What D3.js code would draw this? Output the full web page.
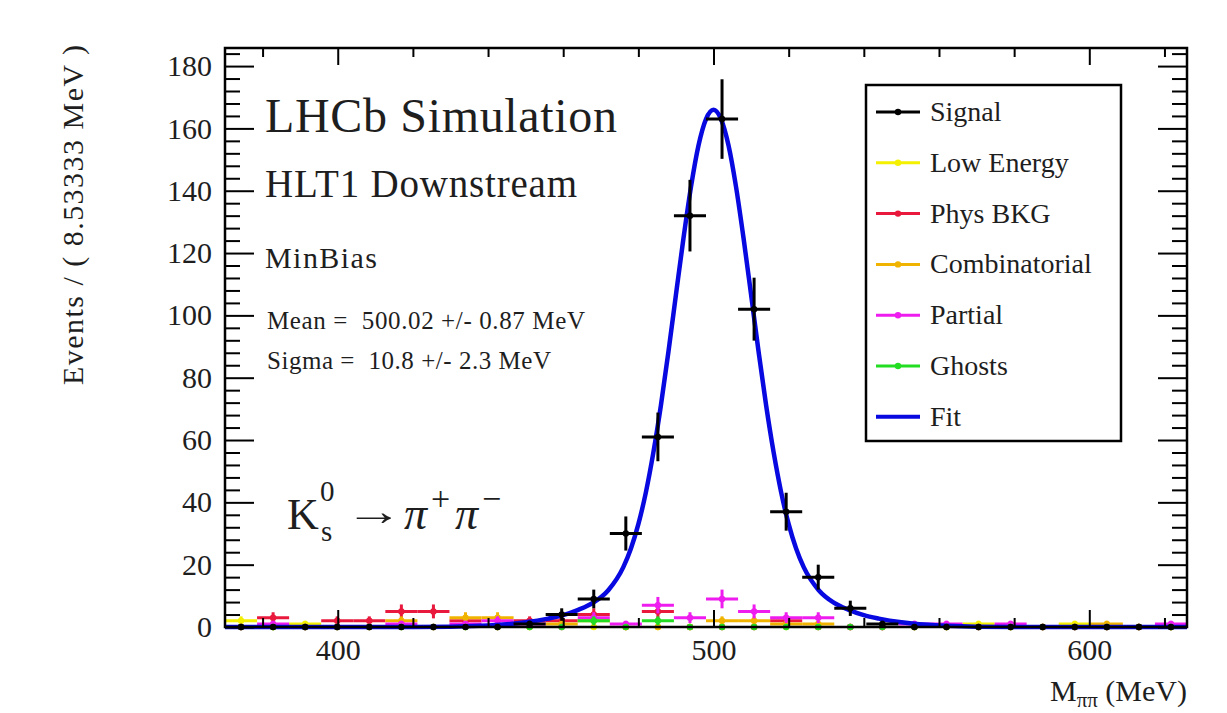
<!DOCTYPE html>
<html>
<head>
<meta charset="utf-8">
<script src="https://cdn.jsdelivr.net/npm/d3@7"></script>
<style>
  body { margin: 0; background: #fff; }
  text { font-family: "Liberation Serif", "Times New Roman", serif; fill: #1e1e1e; white-space: pre; }
</style>
</head>
<body>
<div id="chart"></div>
<script>
// K0s -> pi+ pi- mass plot, 30 bins of 8.53333 MeV from 370 to 626 MeV

// ---------------- DATA ----------------
const massMin = 370, massMax = 626, nBins = 30;

const signal        = [0,0,0,0,0,0,0,0,0,1,4,9,30,61,132,163,102,37,16,6,1,0,0,0,0,0,0,0,0,0];
const lowEnergy     = [2,0,1,0,0,0,0,0,0,0,0,0,0,0,0,0,0,0,0,0,0,0,0,1,0,0,1,0,0,0];
const physBkg       = [0,3,0,2,2,5,5,2,0,2,2,4,0,5,0,0,0,2,0,0,0,0,0,0,0,0,0,0,0,0];
const combinatorial = [0,0,0,0,0,2,0,3,3,0,1,2,0,0,0,2,2,1,1,0,0,0,0,0,0,0,0,1,0,0];
const partial       = [0,1,0,0,0,1,0,1,2,1,0,3,1,7,3,9,5,3,3,0,0,1,1,0,1,0,0,0,0,1];
const ghosts        = [0,0,0,0,0,0,0,0,0,0,0,2,0,2,0,0,0,0,0,0,0,0,0,0,0,0,0,0,0,0];

// fit curve (mass in MeV, events)
const fitMass  = [370,420,440,450,456,460,464,468,472,476,478,480,482,484,486,488,490,492,494,496,498,500,
                  502,504,506,508,510,512,514,516,518,520,522,524,528,532,536,540,544,550,560,580,626];
const fitValue = [0,0,0.5,1.5,2.7,3.8,5.5,7.8,11.8,19.2,25.1,33,43.2,56,71.1,88.3,106.6,124.7,141.2,154.5,163,166,
                  163,154.5,141.2,124.7,106.6,88.3,71.1,56,43.2,33,25.1,19.2,11.8,7.8,5.5,3.8,2.7,1.5,0.5,0,0];

const xTickValues = [400, 500, 600];
const yTickValues = [0, 20, 40, 60, 80, 100, 120, 140, 160, 180];

const legendNames  = ["Signal", "Low Energy", "Phys BKG", "Combinatorial", "Partial", "Ghosts", "Fit"];
const legendColors = ["#000000", "#f4f000", "#e8193c", "#f0b400", "#ee1cee", "#22dd22", "#0808e0"];

const infoLines = ["Mean =  500.02 +/- 0.87 MeV", "Sigma =  10.8 +/- 2.3 MeV"];

// ---------------- SET UP ----------------
const width = 1227, height = 713;
const frame = { left: 225, right: 1187, top: 48, bottom: 627 };

const svg = d3.select("#chart").append("svg")
    .attr("width", width)
    .attr("height", height);

const x = d3.scaleLinear().domain([massMin, massMax]).range([frame.left, frame.right]);
const y = d3.scaleLinear().domain([0, 185.8]).range([frame.bottom, frame.top]);

const binWidth = (massMax - massMin) / nBins;
const binCenter = i => massMin + binWidth * (i + 0.5);

const plot = svg.append("g");

// ------------ HISTOGRAMS ------------
function drawHist(values, color) {
    const g = plot.append("g").attr("stroke", color).attr("fill", color);
    const bins = values.map((v, i) => ({ i: i, v: v, err: Math.sqrt(v) }));
    const filled = bins.filter(d => d.v > 0);

    g.selectAll(".hbar").data(filled).enter().append("line")
        .attr("x1", d => x(binCenter(d.i) - binWidth / 2))
        .attr("x2", d => x(binCenter(d.i) + binWidth / 2))
        .attr("y1", d => y(d.v))
        .attr("y2", d => y(d.v))
        .attr("stroke-width", 3);

    g.selectAll(".vbar").data(filled).enter().append("line")
        .attr("x1", d => x(binCenter(d.i)))
        .attr("x2", d => x(binCenter(d.i)))
        .attr("y1", d => y(d.v - d.err))
        .attr("y2", d => y(d.v + d.err))
        .attr("stroke-width", 3);

    g.selectAll("circle").data(bins).enter().append("circle")
        .attr("cx", d => x(binCenter(d.i)))
        .attr("cy", d => y(d.v))
        .attr("r", 3.2)
        .attr("stroke", "none");
}

drawHist(lowEnergy, legendColors[1]);
drawHist(physBkg, legendColors[2]);
drawHist(combinatorial, legendColors[3]);
drawHist(partial, legendColors[4]);
drawHist(ghosts, legendColors[5]);

// fit line
const fitLine = d3.line()
    .x(d => x(d[0]))
    .y(d => y(d[1]))
    .curve(d3.curveMonotoneX);

plot.append("path")
    .datum(fitMass.map((m, i) => [m, fitValue[i]]))
    .attr("d", fitLine)
    .attr("fill", "none")
    .attr("stroke", legendColors[6])
    .attr("stroke-width", 4.5);

drawHist(signal, legendColors[0]);

// ------------ AXES & FRAME ------------
const minorX = d3.range(380, 621, 20).filter(v => !xTickValues.includes(v));
const minorY = d3.range(0, 185, 4).filter(v => !yTickValues.includes(v));

function styleAxis(sel) {
    sel.select(".domain").remove();
    sel.selectAll(".tick line").attr("stroke", "#000").attr("stroke-width", 2);
    sel.selectAll("text").attr("font-size", 30).attr("fill", "#1e1e1e")
        .attr("font-family", '"Liberation Serif", "Times New Roman", serif');
}

svg.append("g").attr("transform", `translate(0,${frame.bottom})`)
    .call(d3.axisBottom(x).tickValues(xTickValues).tickSize(-17).tickPadding(12).tickFormat(d3.format("d")))
    .call(styleAxis);
svg.append("g").attr("transform", `translate(0,${frame.bottom})`)
    .call(d3.axisBottom(x).tickValues(minorX).tickSize(-9).tickFormat(""))
    .call(styleAxis);
svg.append("g").attr("transform", `translate(0,${frame.top})`)
    .call(d3.axisTop(x).tickValues(xTickValues).tickSize(-17).tickFormat(""))
    .call(styleAxis);
svg.append("g").attr("transform", `translate(0,${frame.top})`)
    .call(d3.axisTop(x).tickValues(minorX).tickSize(-9).tickFormat(""))
    .call(styleAxis);

svg.append("g").attr("transform", `translate(${frame.left},0)`)
    .call(d3.axisLeft(y).tickValues(yTickValues).tickSize(-29).tickPadding(13))
    .call(styleAxis);
svg.append("g").attr("transform", `translate(${frame.left},0)`)
    .call(d3.axisLeft(y).tickValues(minorY).tickSize(-15).tickFormat(""))
    .call(styleAxis);
svg.append("g").attr("transform", `translate(${frame.right},0)`)
    .call(d3.axisRight(y).tickValues(yTickValues).tickSize(-29).tickFormat(""))
    .call(styleAxis);
svg.append("g").attr("transform", `translate(${frame.right},0)`)
    .call(d3.axisRight(y).tickValues(minorY).tickSize(-15).tickFormat(""))
    .call(styleAxis);

svg.append("rect")
    .attr("x", frame.left).attr("y", frame.top)
    .attr("width", frame.right - frame.left).attr("height", frame.bottom - frame.top)
    .attr("fill", "none").attr("stroke", "#000").attr("stroke-width", 2.5);

// axis titles
svg.append("text")
    .attr("transform", "translate(83,0) rotate(-90)")
    .attr("x", -45)
    .attr("text-anchor", "end")
    .attr("font-size", 30)
    .attr("textLength", 340)
    .attr("lengthAdjust", "spacing")
    .text("Events / ( 8.53333 MeV )");

const xTitle = svg.append("text")
    .attr("x", frame.right)
    .attr("y", 701)
    .attr("text-anchor", "end")
    .attr("font-size", 30);
xTitle.append("tspan").text("M");
xTitle.append("tspan").attr("font-size", 21).attr("dy", 6).text("ππ");
xTitle.append("tspan").attr("dy", -6).text(" (MeV)");

// ------------ LABELS ------------
svg.append("text").attr("x", 265).attr("y", 132).attr("font-size", 48)
    .attr("textLength", 352).attr("lengthAdjust", "spacing").text("LHCb Simulation");
svg.append("text").attr("x", 265).attr("y", 197).attr("font-size", 39)
    .attr("textLength", 312).attr("lengthAdjust", "spacing").text("HLT1 Downstream");
svg.append("text").attr("x", 265).attr("y", 268).attr("font-size", 30)
    .attr("textLength", 112).attr("lengthAdjust", "spacing").text("MinBias");
svg.append("text").attr("x", 267).attr("y", 329).attr("font-size", 25)
    .attr("textLength", 318).attr("lengthAdjust", "spacing").text(infoLines[0]);
svg.append("text").attr("x", 267).attr("y", 369).attr("font-size", 25)
    .attr("textLength", 284).attr("lengthAdjust", "spacing").text(infoLines[1]);

// decay formula
const formula = svg.append("g");
formula.append("text").attr("x", 287).attr("y", 529).attr("font-size", 44).text("K");
formula.append("text").attr("x", 320).attr("y", 501).attr("font-size", 29).text("0");
formula.append("text").attr("x", 321).attr("y", 541).attr("font-size", 29).text("s");
formula.append("text").attr("transform", "translate(345,525) scale(1.45,1)")
    .attr("font-size", 40).attr("font-family", '"DejaVu Serif", serif').text("→");
formula.append("text").attr("x", 404).attr("y", 529).attr("font-size", 46).attr("font-style", "italic").text("π");
formula.append("text").attr("x", 431).attr("y", 510).attr("font-size", 34).text("+");
formula.append("text").attr("x", 455).attr("y", 529).attr("font-size", 46).attr("font-style", "italic").text("π");
formula.append("text").attr("x", 482).attr("y", 510).attr("font-size", 34).text("−");

// ------------ LEGEND ------------
const legend = svg.append("g");
legend.append("rect")
    .attr("x", 866).attr("y", 85).attr("width", 255).attr("height", 356)
    .attr("fill", "#fff").attr("stroke", "#000").attr("stroke-width", 2.5);

const entry = legend.selectAll(".entry")
    .data(legendNames.map((n, i) => ({ name: n, color: legendColors[i], i: i })))
    .enter().append("g")
    .attr("transform", d => `translate(0,${112 + d.i * 50.8})`);

entry.append("line")
    .attr("x1", 876).attr("x2", 920)
    .attr("stroke", d => d.color)
    .attr("stroke-width", d => d.name === "Fit" ? 4 : 3);

entry.filter(d => d.name !== "Fit").append("circle")
    .attr("cx", 898).attr("r", 3.2)
    .attr("fill", d => d.color);

entry.append("text")
    .attr("x", 930).attr("y", 9)
    .attr("font-size", 28)
    .text(d => d.name);
</script>
</body>
</html>
